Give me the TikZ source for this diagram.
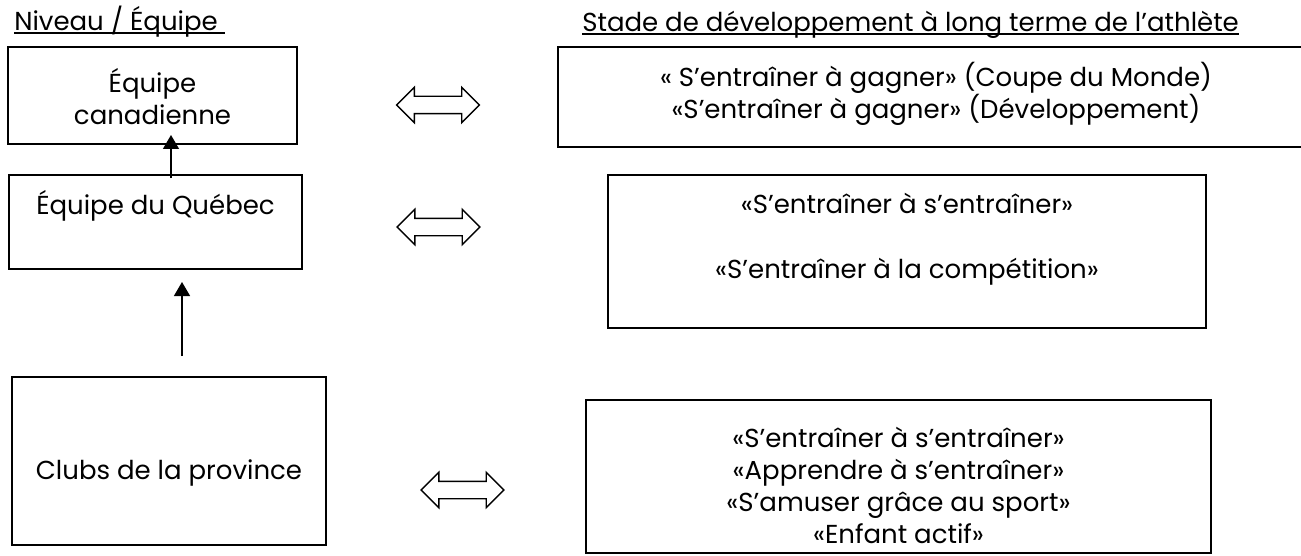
\documentclass[tikz,border=0pt]{standalone}
\usepackage{fontspec}
\setmainfont{Poppins}
\usetikzlibrary{shapes.arrows,arrows.meta}
\newcommand\souligne[1]{\setbox0\hbox{#1}\rlap{\rule[-2pt]{\wd0}{0.9pt}}\box0}

\begin{document}
\begin{tikzpicture}[x=0.75pt,y=-0.75pt,
    font=\fontsize{19.5}{24}\selectfont,
    boite/.style={draw, line width=1pt, align=center, inner sep=0pt},
    stade/.style={boite},
    echange/.style={draw, line width=1pt, double arrow, double arrow head extend=6.75pt,
        minimum height=62pt, inner sep=0pt, text height=12pt, text depth=0pt, text width=0pt},
    monte/.style={line width=1pt, -{Triangle[length=10.5pt,width=12pt]}}]

    \clip (0,0) rectangle (1301,556);

    % Titres
    \node[anchor=base west, inner sep=0pt] (titreNiveau) at (14,31) {\souligne{Niveau / Équipe\ }};
    \node[anchor=base west, inner sep=0pt] (titreStade) at (582,32) {\souligne{Stade de développement à long terme de l’athlète}};

    % Niveaux
    \node[boite, minimum width=216.75pt, minimum height=72.75pt] (canada) at (152.5,95.5) {\rule{0pt}{19pt}Équipe\\canadienne};
    \node[boite, minimum width=219.75pt, minimum height=70.5pt] (quebec) at (155.5,222) {Équipe du Québec\rule[-29pt]{0pt}{0pt}};
    \node[boite, minimum width=235.5pt, minimum height=126pt] (clubs) at (169,461) {\rule{0pt}{33pt}Clubs de la province};

    % Stades
    \node[stade, minimum width=567pt, minimum height=75pt] (gagner) at (936,97) {« S’entraîner à gagner» (Coupe du Monde)\\«S’entraîner à gagner» (Développement)\rule[-10pt]{0pt}{0pt}};
    \node[stade, minimum width=448.5pt, minimum height=114.75pt] (entrainer) at (907,251.5) {«S’entraîner à s’entraîner»\\[24.75pt]«S’entraîner à la compétition»\rule[-23pt]{0pt}{0pt}};
    \node[stade, minimum width=468.75pt, minimum height=114.75pt] (base) at (898.5,476.5) {\rule{0pt}{29pt}«S’entraîner à s’entraîner»\\«Apprendre à s’entraîner»\\«S’amuser grâce au sport»\\«Enfant actif»};

    % Correspondances
    \node[echange] (echange1) at (438,105) {};
    \node[echange] (echange2) at (438.5,227) {};
    \node[echange] (echange3) at (462.5,490) {};

    % Montees
    \coordinate (depart1) at (171,178);
    \coordinate (arrivee1) at (171,135);
    \draw[monte] (depart1) -- (arrivee1);

    \coordinate (depart2) at (182,356);
    \coordinate (arrivee2) at (182,282);
    \draw[monte] (depart2) -- (arrivee2);

\end{tikzpicture}
\end{document}
